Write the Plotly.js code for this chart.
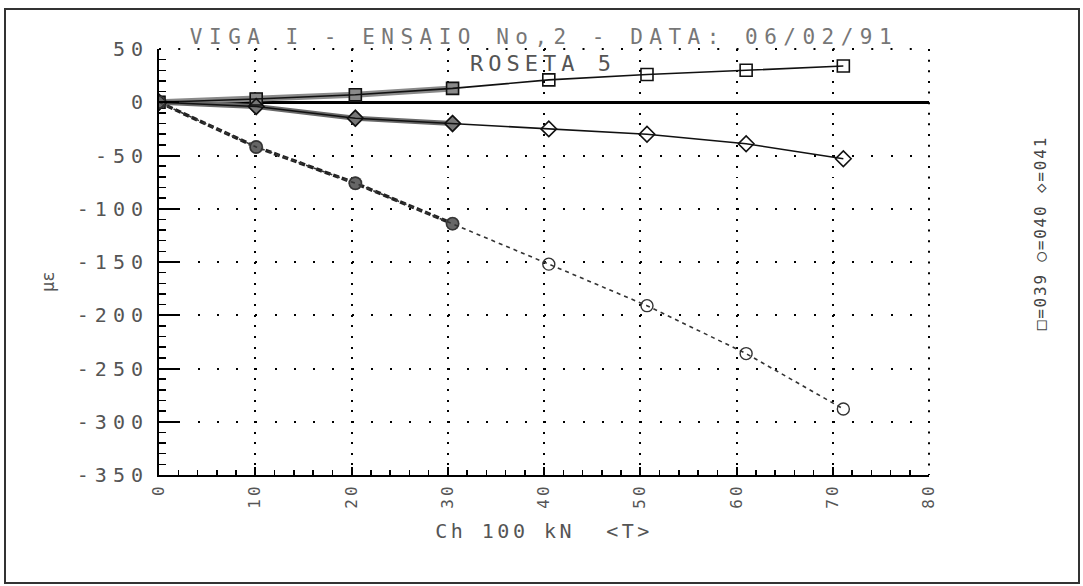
<!DOCTYPE html>
<html>
<head>
<meta charset="utf-8">
<script src="https://cdn.plot.ly/plotly-3.0.1.min.js"></script>
<style>
  html, body { margin: 0; padding: 0; background: #fff; }
  #chart { width: 1083px; height: 586px; }
  .gtitle { letter-spacing: 6.5px; }
  .xtick text { letter-spacing: 3px; }
  .ytick text { letter-spacing: 6px; }
  .xtitle { letter-spacing: 3.5px; }
  .annotation[data-index="0"] text { letter-spacing: 5px; }
  .annotation[data-index="1"] text { letter-spacing: 1.8px; }
</style>
</head>
<body>
<div id="chart"></div>
<script>
// Load Ch (x 100 kN)
const load = [0, 10.1, 20.4, 30.5, 40.5, 50.7, 61, 71.1];
// Strain readings (microstrain) for rosette 5 gauges
const gauge039 = [0, 3, 7, 13, 21, 26, 30, 34];       // square
const gauge040 = [0, -42, -76, -114, -152, -191, -236, -288]; // circle
const gauge041 = [0, -4, -15, -20, -25, -30, -39, -53]; // diamond

const xTicks = [0, 10, 20, 30, 40, 50, 60, 70, 80];
const yTicks = [50, 0, -50, -100, -150, -200, -250, -300, -350];

const titleText = 'VIGA I - ENSAIO No,2 - DATA: 06/02/91';
const subTitle = 'ROSETA 5';
const legendText = '\u25A1=039 \u25CB=040 \u25C7=041';
const xTitle = 'Ch 100 kN  <T>';
const yTitle = '\u03BC\u03B5';

const mono = 'DejaVu Sans Mono, Liberation Mono, monospace';
const early = 4;

const traces = [
  // heavy early segments (plotter overdraw)
  {x: load.slice(0, early), y: gauge039.slice(0, early), mode: 'lines+markers',
   line: {color: '#8a8a8a', width: 6}, marker: {symbol: 'square', size: 13, color: '#8a8a8a'}, hoverinfo: 'skip'},
  {x: load.slice(0, early), y: gauge041.slice(0, early), mode: 'lines+markers',
   line: {color: '#6a6a6a', width: 5}, marker: {symbol: 'diamond', size: 14, color: '#777'}, hoverinfo: 'skip'},
  {x: load.slice(0, early), y: gauge040.slice(0, early), mode: 'lines+markers',
   line: {color: '#222', width: 3.5, dash: '6px,3px'}, marker: {symbol: 'circle', size: 14, color: '#666'}, hoverinfo: 'skip'},
  // main series
  {name: '039', x: load, y: gauge039, mode: 'lines+markers',
   line: {color: '#111', width: 1.6},
   marker: {symbol: 'square-open', size: 12, color: '#111', line: {width: 1.6}}},
  {name: '041', x: load, y: gauge041, mode: 'lines+markers',
   line: {color: '#111', width: 1.6},
   marker: {symbol: 'diamond-open', size: 12, color: '#111', line: {width: 1.6}}},
  {name: '040', x: load, y: gauge040, mode: 'lines+markers',
   line: {color: '#333', width: 1.6, dash: '4px,4px'},
   marker: {symbol: 'circle-open', size: 12, color: '#333', line: {width: 1.4}}}
];

const layout = {
  width: 1083, height: 586,
  margin: {l: 159, r: 154, t: 49, b: 111, pad: 0},
  paper_bgcolor: '#fff', plot_bgcolor: '#fff',
  showlegend: false,
  title: {text: titleText, font: {family: mono, size: 21, color: '#777'},
          x: 0.5, xref: 'paper', xanchor: 'center', y: 1 - 37 / 586, yref: 'container', yanchor: 'middle'},
  xaxis: {
    range: [0, 80], tickvals: xTicks, ticktext: xTicks.map(String),
    showline: true, linecolor: '#000', linewidth: 2,
    ticks: 'inside', ticklen: 8, tickwidth: 2, tickcolor: '#000',
    tickangle: -90, tickfont: {family: mono, size: 16, color: '#555'},
    ticklabelstandoff: 0,
    showgrid: true, gridcolor: '#000', gridwidth: 2, griddash: '2px,8.625px',
    zeroline: false,
    minor: {dtick: 2, ticks: 'inside', ticklen: 5, tickwidth: 1.5, tickcolor: '#000', showgrid: false},
    title: {text: xTitle, font: {family: mono, size: 20, color: '#555'}, standoff: 16},
    automargin: false
  },
  yaxis: {
    range: [-350, 50], tickvals: yTicks, ticktext: yTicks.map(String),
    showline: true, linecolor: '#000', linewidth: 2,
    ticks: 'inside', ticklen: 20, tickwidth: 2, tickcolor: '#000',
    tickfont: {family: mono, size: 20, color: '#555'},
    ticklabelstandoff: 4,
    showgrid: true, gridcolor: '#000', gridwidth: 2, griddash: '2px,17.25px',
    zeroline: true, zerolinecolor: '#000', zerolinewidth: 2.5,
    minor: {dtick: 10, ticks: 'inside', ticklen: 7, tickwidth: 1.5, tickcolor: '#000', showgrid: false},
    automargin: false
  },
  annotations: [
    {text: subTitle, xref: 'paper', yref: 'paper', x: 0.4987, y: (475 - 63) / 426,
     xanchor: 'center', yanchor: 'middle', showarrow: false,
     font: {family: mono, size: 22, color: '#555'}},
    {text: legendText, xref: 'paper', yref: 'paper', x: (1040 - 159) / 770, y: (475 - 233) / 426,
     xanchor: 'center', yanchor: 'middle', showarrow: false, textangle: -90,
     font: {family: mono, size: 16, color: '#444'}},
    {text: yTitle, xref: 'paper', yref: 'paper', x: (48 - 159) / 770, y: (475 - 282) / 426,
     xanchor: 'center', yanchor: 'middle', showarrow: false, textangle: -90,
     font: {family: mono, size: 17, color: '#555'}}
  ],
  shapes: [
    {type: 'rect', xref: 'paper', yref: 'paper',
     x0: (5 - 159) / 770, x1: (1079 - 159) / 770, y0: (475 - 583) / 426, y1: (475 - 9) / 426,
     line: {color: '#333', width: 2}, layer: 'below'},
    // dotted frame edges at top (y = 50) and right (x = 80)
    {type: 'line', xref: 'paper', yref: 'paper', x0: 0, x1: 1, y0: 1, y1: 1,
     line: {color: '#000', width: 2, dash: '2px,17.25px'}, layer: 'below'},
    {type: 'line', xref: 'paper', yref: 'paper', x0: 1, x1: 1, y0: 1, y1: 0,
     line: {color: '#000', width: 2, dash: '2px,8.625px'}, layer: 'below'}
  ]
};

Plotly.newPlot('chart', traces, layout, {displayModeBar: false, staticPlot: true});
</script>
</body>
</html>
